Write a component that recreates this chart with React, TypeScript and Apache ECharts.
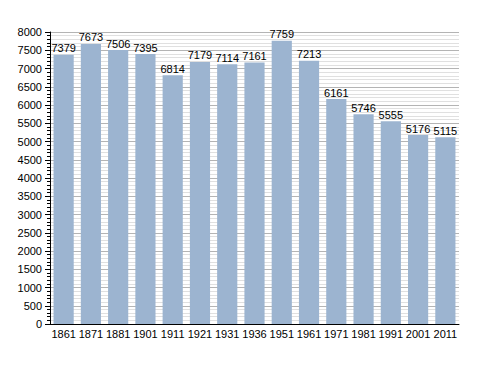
import React, { useEffect, useRef } from "react";
import * as echarts from "echarts";

const years = ["1861","1871","1881","1901","1911","1921","1931","1936","1951","1961","1971","1981","1991","2001","2011"];
const population = [7379,7673,7506,7395,6814,7179,7114,7161,7759,7213,6161,5746,5555,5176,5115];

export default function App() {
  const ref = useRef<HTMLDivElement>(null);
  useEffect(() => {
    if (!ref.current) return;
    const chart = echarts.init(ref.current, null, { renderer: "svg" });
    chart.setOption({
      animation: false,
      backgroundColor: "#ffffff",
      grid: { left: 42, right: 21, top: 24, bottom: 41 },
      xAxis: {
        type: "category",
        data: years,
        axisLine: { lineStyle: { color: "#000", width: 1 } },
        axisTick: { show: false },
        axisLabel: { interval: 0, color: "#000", fontFamily: "Liberation Sans, Arial, sans-serif", fontSize: 11, margin: 4 },
      },
      yAxis: {
        type: "value",
        min: 0,
        max: 8000,
        interval: 500,
        axisLine: { show: true, lineStyle: { color: "#000", width: 1 } },
        axisTick: { show: true, length: 5, lineStyle: { color: "#000" } },
        minorTick: { show: true, splitNumber: 5, length: 3, lineStyle: { color: "#000" } },
        splitLine: { show: true, lineStyle: { color: "#b4b4b4", width: 1 } },
        minorSplitLine: { show: true, lineStyle: { color: "#e0e0e0", width: 1 } },
        axisLabel: { color: "#000", fontFamily: "Liberation Sans, Arial, sans-serif", fontSize: 11, margin: 8, formatter: (v: number) => String(v) },
      },
      series: [
        {
          type: "bar",
          data: population,
          barCategoryGap: "26%",
          itemStyle: { color: "#9cb4d0" },
          label: {
            show: true,
            position: "top",
            distance: 1,
            color: "#000",
            fontFamily: "Liberation Sans, Arial, sans-serif",
            fontSize: 11,
          },
        },
      ],
    });
    return () => chart.dispose();
  }, []);
  return <div ref={ref} style={{ width: 472, height: 357 }} />;
}
